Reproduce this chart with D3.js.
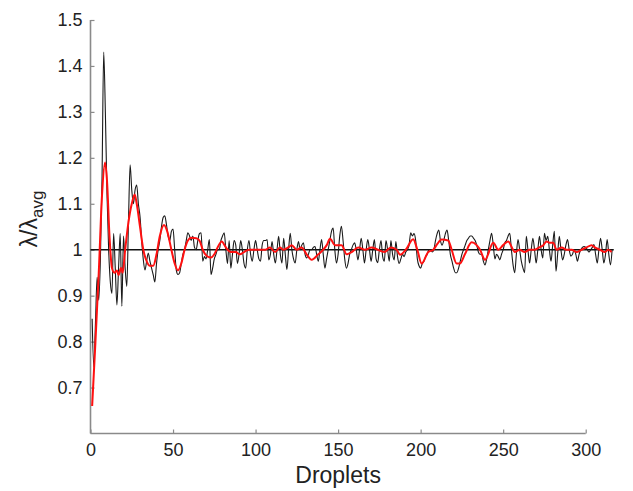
<html>
<head>
<meta charset="utf-8">
<style>
  body { margin: 0; background: #fff; }
  text { font-family: "Liberation Sans", Arial, Helvetica, sans-serif; fill: #222; }
</style>
</head>
<body>
<script src="https://cdn.jsdelivr.net/npm/d3@7"></script>
<script>
// raw lambda/lambda_avg per droplet, droplet 1..316
var blackVals = [
  0.85, 0.745, 0.84, 0.94, 0.89, 0.98, 1.16, 1.43, 1.30, 1.12,
  1.00, 0.93, 0.905, 1.035, 0.96, 0.88, 0.96, 1.035, 0.877, 1.03,
  0.96, 0.92, 1.06, 1.185, 1.13, 1.10, 1.13, 1.141, 1.10, 1.072,
  1.02, 0.978, 0.956, 0.975, 0.993, 0.975, 0.96, 0.945, 0.93, 0.97,
  1.0, 1.02, 1.05, 1.07, 1.074, 1.055, 1.03, 1.02, 1.04, 1.045,
  1.0, 0.955, 0.946, 0.95, 0.97, 0.99, 1.0, 1.02, 1.037, 1.03,
  1.02, 1.03, 1.005, 1.0, 1.02, 1.035, 1.037, 0.975, 0.985, 0.98,
  1.0, 1.022, 0.946, 0.96, 0.98, 0.99, 1.0, 1.0, 1.02, 1.03,
  1.037, 1.0, 0.97, 1.02, 0.96, 0.99, 1.02, 1.01, 0.97, 0.99,
  1.02, 1.0, 0.97, 0.96, 1.0, 1.02, 0.99, 0.975, 1.0, 1.02,
  1.0, 0.98, 0.975, 1.01, 1.02, 1.02, 1.022, 0.978, 0.99, 1.018,
  0.99, 0.971, 1.0, 1.029, 0.99, 0.971, 1.025, 0.99, 0.957, 1.0,
  1.036, 1.0, 0.98, 0.971, 1.0, 1.018, 1.0, 1.01, 1.015, 0.99,
  0.982, 0.99, 1.0, 1.0, 1.005, 1.007, 0.99, 0.975, 1.0, 1.022,
  0.99, 0.96, 0.98, 1.0, 1.02, 1.04, 1.047, 1.0, 0.971, 0.99,
  1.03, 1.051, 1.02, 0.98, 0.96, 0.97, 0.99, 1.0, 1.01, 1.015,
  1.0, 0.978, 1.0, 1.025, 1.0, 0.971, 1.0, 1.022, 1.0, 0.975,
  1.0, 1.022, 0.98, 0.972, 1.0, 1.02, 0.985, 0.975, 1.02, 1.0,
  0.975, 1.02, 0.99, 0.978, 1.018, 0.985, 0.97, 0.98, 0.99, 0.985,
  0.995, 1.0, 1.01, 1.037, 1.03, 1.035, 1.02, 0.98, 0.965, 0.96,
  0.97, 0.975, 0.985, 0.99, 1.0, 1.0, 0.995, 1.0, 1.02, 1.035,
  1.043, 1.02, 1.01, 1.02, 1.035, 1.043, 1.02, 0.99, 0.975, 0.96,
  0.95, 0.95, 0.96, 0.975, 0.99, 1.0, 1.01, 1.02, 1.025, 1.03,
  1.03, 1.025, 1.02, 1.01, 0.995, 0.99, 0.99, 0.975, 0.967, 0.98,
  1.0, 1.02, 1.036, 1.01, 0.98, 0.99, 0.985, 0.978, 0.99, 1.0,
  1.015, 1.02, 1.03, 1.036, 1.0, 0.967, 0.95, 0.99, 1.022, 1.0,
  0.975, 0.96, 0.95, 1.029, 1.0, 0.971, 1.0, 1.025, 1.0, 0.971,
  1.0, 1.029, 1.0, 0.982, 1.036, 1.02, 1.029, 1.0, 0.975, 1.01,
  1.04, 0.953, 0.99, 1.029, 1.0, 0.978, 0.99, 1.01, 1.022, 1.0,
  0.986, 0.99, 1.0, 0.99, 0.975, 0.99, 1.0, 1.005, 1.007, 1.005,
  1.0, 0.995, 1.0, 1.005, 1.011, 0.99, 0.971, 1.0, 1.025, 1.0,
  0.971, 0.99, 1.022, 0.99, 0.967, 1.0
];

// smoothed (red) curve
var redX = [1, 3, 5, 7, 8.8, 10, 11.5, 13, 14.5, 16, 17, 18.5, 19.5, 21, 23, 25, 26.8, 28, 30, 32,
  34, 36, 38, 40, 42, 44.5, 46.5, 49, 51, 53, 55, 57, 59, 61, 64, 66, 68, 71, 73, 75,
  77, 79.5, 82, 85, 88, 90.5, 93, 96, 100, 104, 106, 108.7, 111.8, 114.8, 116.8, 119.8, 121.9, 124.9, 127.9, 130.9,
  134, 138, 141, 143.1, 145.1, 148.1, 152.1, 155.2, 158.2, 162.2, 166.3, 170.3, 174, 178, 182, 185.5, 187.5, 191, 195.5, 198,
  200.6, 204.6, 207.7, 210, 212.7, 216.7, 218.8, 221.8, 223.8, 226.8, 230.9, 233.9, 236, 239, 244, 247, 250, 253, 256, 257,
  260, 263, 266, 269, 272, 274.3, 276.3, 278.3, 280.3, 282.4, 285.4, 288.4, 291.5, 294.5, 297.5, 300.5, 303.6, 305.6, 308.6, 311.6,
  313.7, 315.7];
var redY = [0.66, 0.80, 0.95, 1.12, 1.19, 1.15, 1.03, 0.96, 0.95, 0.955, 0.945, 0.96, 0.95, 1.0, 1.06, 1.10, 1.12, 1.10, 1.05, 1.0,
  0.975, 0.965, 0.965, 0.99, 1.03, 1.054, 1.04, 1.0, 0.97, 0.955, 0.97, 1.0, 1.02, 1.026, 1.025, 1.02, 1.0, 0.985, 0.983, 0.99,
  1.005, 1.018, 1.005, 0.995, 0.995, 0.99, 0.995, 1.0, 1.0, 1.0, 1.0, 1.005, 0.995, 1.005, 1.0, 1.005, 1.01, 1.0, 1.005, 0.99,
  0.978, 0.99, 1.0, 1.01, 1.024, 1.01, 1.01, 0.99, 0.995, 1.005, 1.0, 1.005, 1.0, 0.995, 1.005, 1.0, 0.989, 1.0, 1.023, 1.0,
  0.97, 0.995, 1.0, 1.012, 1.022, 1.02, 1.0, 0.97, 0.97, 0.99, 1.016, 1.01, 1.0, 0.978, 1.015, 1.0, 1.01, 1.018, 1.0, 0.995,
  1.0, 0.995, 1.0, 1.0, 1.005, 1.01, 1.018, 1.015, 1.015, 1.0, 1.005, 1.0, 1.0, 0.995, 1.0, 1.005, 1.01, 1.005, 1.0, 0.995,
  1.0, 0.995];

var xTicks = [0, 50, 100, 150, 200, 250, 300];
var yTicks = [0.7, 0.8, 0.9, 1.0, 1.1, 1.2, 1.3, 1.4, 1.5];

var width = 633, height = 491;
var svg = d3.select("body").append("svg")
    .attr("width", width)
    .attr("height", height);

var x = d3.scaleLinear().domain([0, 300]).range([90.5, 585.7]);
var y = d3.scaleLinear().domain([0.6, 1.5]).range([433.5, 20]);

var axisColor = "#8a8a8a";

// axes
var xAxis = svg.append("g")
    .attr("transform", "translate(0," + y(0.6) + ")")
    .call(d3.axisBottom(x).tickValues(xTicks).tickSizeInner(-4).tickSizeOuter(0).tickPadding(10));
var yAxis = svg.append("g")
    .attr("transform", "translate(" + x(0) + ",0)")
    .call(d3.axisLeft(y).tickValues(yTicks).tickSizeInner(-4).tickSizeOuter(0).tickPadding(8)
      .tickFormat(function(d) { return d === 1 ? "1" : d.toFixed(1); }));

[xAxis, yAxis].forEach(function(g) {
  g.select(".domain").attr("stroke", axisColor).attr("stroke-width", 1.6);
  g.selectAll(".tick line").attr("stroke", axisColor).attr("stroke-width", 1.2);
  g.selectAll(".tick text").attr("fill", "#222").style("font-size", "18px")
    .style("font-family", "'Liberation Sans', Arial, sans-serif");
});
// extend the y axis line down to the x axis
yAxis.select(".domain").attr("d", "M0," + y(1.5) + "V" + y(0.6));
xAxis.select(".domain").attr("d", "M" + x(0) + ",0H" + x(300));

// reference line at 1
svg.append("line")
    .attr("x1", x(0)).attr("x2", x(317))
    .attr("y1", y(1)).attr("y2", y(1))
    .attr("stroke", "#111").attr("stroke-width", 1.5);

var droplets = d3.range(1, blackVals.length + 1);

var blackLine = d3.line()
    .x(function(d, i) { return x(droplets[i]); })
    .y(function(d) { return y(d); })
    .curve(d3.curveMonotoneX);

svg.append("path")
    .attr("d", blackLine(blackVals))
    .attr("fill", "none")
    .attr("stroke", "#1a1a1a")
    .attr("stroke-width", 1.1);

var redLine = d3.line()
    .x(function(d, i) { return x(redX[i]); })
    .y(function(d) { return y(d); })
    .curve(d3.curveMonotoneX);

svg.append("path")
    .attr("d", redLine(redY))
    .attr("fill", "none")
    .attr("stroke", "#ff1010")
    .attr("stroke-width", 2);

// labels
svg.append("text")
    .attr("x", (x(0) + x(300)) / 2)
    .attr("y", 483)
    .attr("text-anchor", "middle")
    .style("font-size", "23px")
    .text("Droplets");

var yl = svg.append("text")
    .attr("transform", "translate(37,219) rotate(-90)")
    .attr("text-anchor", "middle")
    .style("font-size", "23px");
yl.append("tspan").text("λ/λ");
yl.append("tspan").attr("dy", 6).style("font-size", "17px").text("avg");
</script>
</body>
</html>
